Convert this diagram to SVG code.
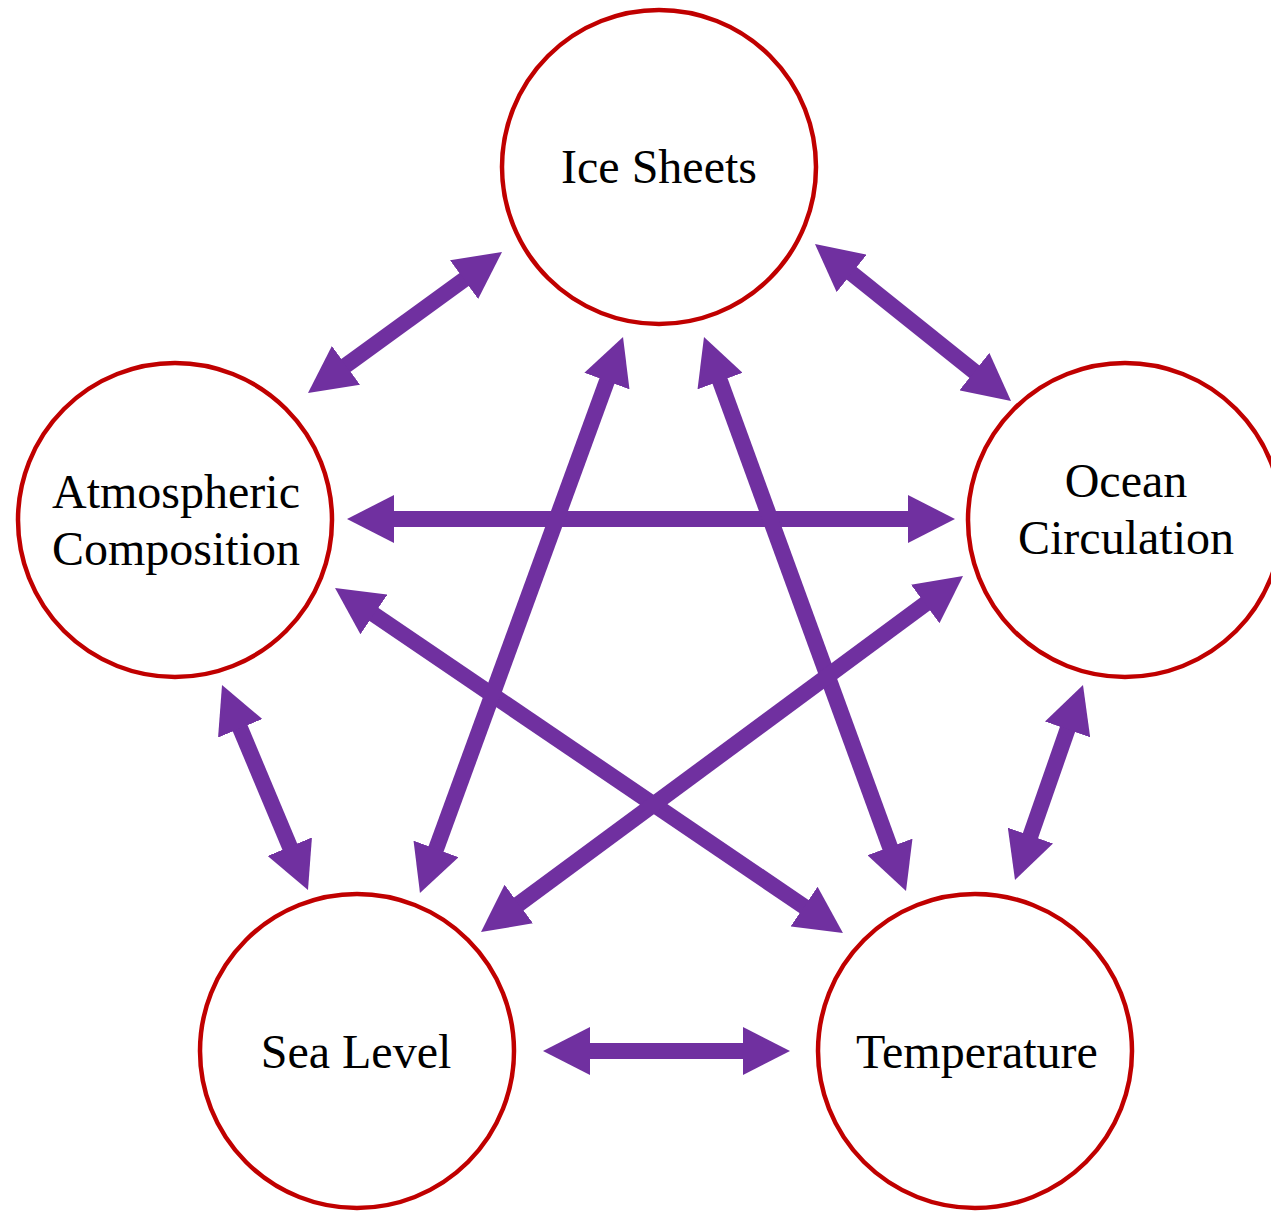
<svg xmlns="http://www.w3.org/2000/svg" width="1271" height="1212" viewBox="0 0 1271 1212">
<style>
.node circle{fill:#FFFFFF;stroke:#C00000;stroke-width:4.5}
.node text{font-family:"Liberation Serif","Times New Roman",serif;font-size:48px;fill:#000000;text-anchor:middle}
.conn line{stroke:#7030A0;stroke-width:16;marker-start:url(#ah);marker-end:url(#ah)}
</style>
<defs>
<marker id="ah" viewBox="0 0 47 48" markerUnits="userSpaceOnUse" markerWidth="47" markerHeight="48" refX="23" refY="24" orient="auto-start-reverse">
<path d="M0,0 L47,24 L0,48 Z" fill="#7030A0"/>
</marker>
</defs>
<rect width="1271" height="1212" fill="#FFFFFF"/>
<g id="connectors" class="conn">
<line x1="482.6" y1="266.1" x2="327.4" y2="378.9"/>
<line x1="833.7" y1="259.0" x2="992.3" y2="386.0"/>
<line x1="371" y1="519" x2="931" y2="519"/>
<line x1="231.3" y1="707.1" x2="298.7" y2="867.9"/>
<line x1="354.9" y1="601.5" x2="823.1" y2="919.5"/>
<line x1="614.8" y1="359.5" x2="428.2" y2="870.5"/>
<line x1="712.2" y1="359.5" x2="897.8" y2="868.5"/>
<line x1="943.7" y1="590.3" x2="500.3" y2="917.7"/>
<line x1="1075.1" y1="707.7" x2="1022.9" y2="857.3"/>
<line x1="567" y1="1051" x2="766" y2="1051"/>
</g>
<g id="ice-sheets" class="node">
<circle cx="659" cy="167" r="157"/>
<text x="659" y="183">Ice Sheets</text>
</g>
<g id="atmospheric-composition" class="node">
<circle cx="175" cy="520" r="157"/>
<text x="176" y="508">Atmospheric</text>
<text x="176" y="565">Composition</text>
</g>
<g id="ocean-circulation" class="node">
<circle cx="1125" cy="520" r="157"/>
<text x="1126" y="497">Ocean</text>
<text x="1126" y="554">Circulation</text>
</g>
<g id="sea-level" class="node">
<circle cx="357" cy="1051" r="157"/>
<text x="356" y="1068">Sea Level</text>
</g>
<g id="temperature" class="node">
<circle cx="975" cy="1051" r="157"/>
<text x="977" y="1068">Temperature</text>
</g>
</svg>
